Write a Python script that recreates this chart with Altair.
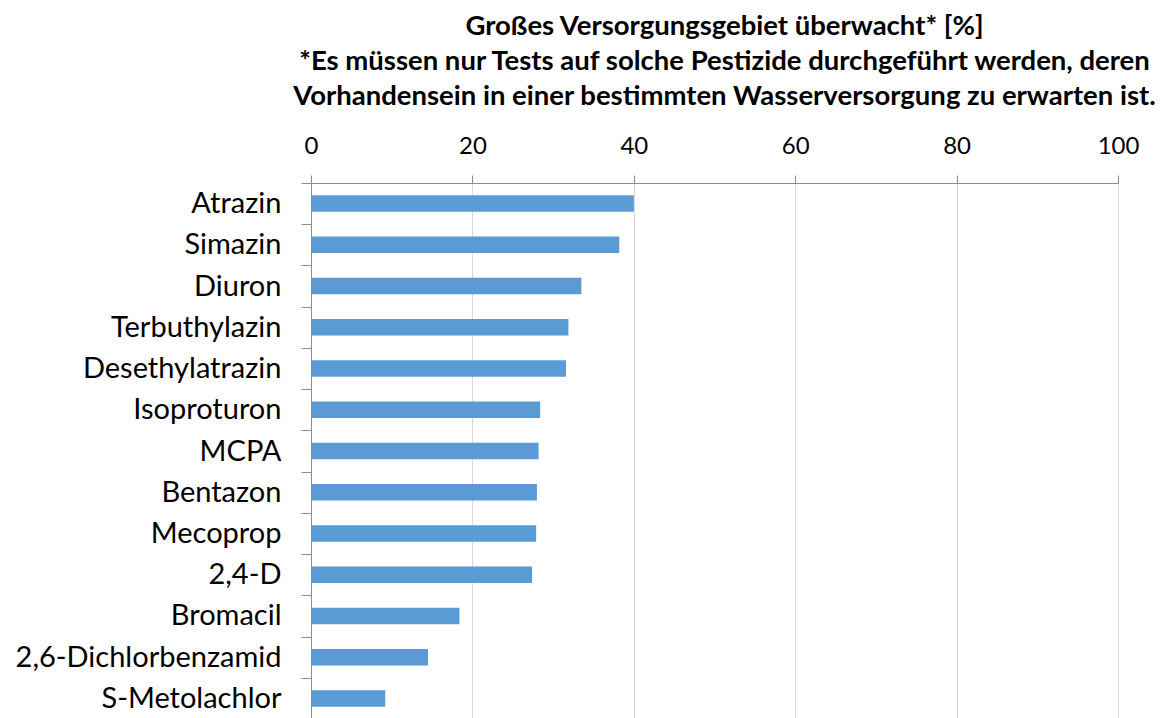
import altair as alt
import pandas as pd

categories = ["Atrazin", "Simazin", "Diuron", "Terbuthylazin", "Desethylatrazin",
              "Isoproturon", "MCPA", "Bentazon", "Mecoprop", "2,4-D", "Bromacil",
              "2,6-Dichlorbenzamid", "S-Metolachlor"]
values = [40.0, 38.2, 33.5, 31.9, 31.6, 28.4, 28.2, 28.0, 27.9, 27.4, 18.4, 14.5, 9.2]
x_ticks = [0, 20, 40, 60, 80, 100]
title_lines = [
    "Großes Versorgungsgebiet überwacht* [%]",
    "*Es müssen nur Tests auf solche Pestizide durchgeführt  werden, deren",
    "Vorhandensein in einer bestimmten Wasserversorgung zu erwarten ist.",
]

df = pd.DataFrame({"Pestizid": categories, "Anteil": values})

FONT = "Lato"
AXIS_GREY = "#8C8C8C"

chart = alt.Chart(df).mark_bar(color="#5B9BD5", height={"band": 0.4}).encode(
    x=alt.X(
        "Anteil:Q",
        scale=alt.Scale(domain=[0, 100], nice=False, zero=True),
        axis=alt.Axis(
            orient="top", values=x_ticks, title=None, grid=True,
            gridColor="#D9D9D9", gridWidth=1,
            domainColor=AXIS_GREY, tickColor=AXIS_GREY, tickSize=8,
            labelFont=FONT, labelFontSize=24, labelColor="#000000",
            labelPadding=17, labelFlush=False,
        ),
    ),
    y=alt.Y(
        "Pestizid:N", sort=categories,
        scale=alt.Scale(paddingInner=0, paddingOuter=0),
        axis=alt.Axis(
            title=None, tickBand="extent", grid=False,
            domainColor=AXIS_GREY, tickColor=AXIS_GREY, tickSize=10,
            labelFont=FONT, labelFontSize=29, labelColor="#000000",
            labelPadding=20, labelLimit=400,
        ),
    ),
).properties(
    width=807,
    height=536,
    title=alt.TitleParams(
        text=title_lines, font=FONT, fontSize=27.5, fontWeight="bold",
        color="#000000", lineHeight=35, anchor="middle", offset=24, dx=10,
    ),
    padding={"left": 303, "top": 175, "right": 40, "bottom": 0},
    autosize=alt.AutoSizeParams(type="none"),
).configure_view(stroke=None).configure(background="white")

chart.save("out.html", embed_options={"renderer": "svg", "actions": False})
